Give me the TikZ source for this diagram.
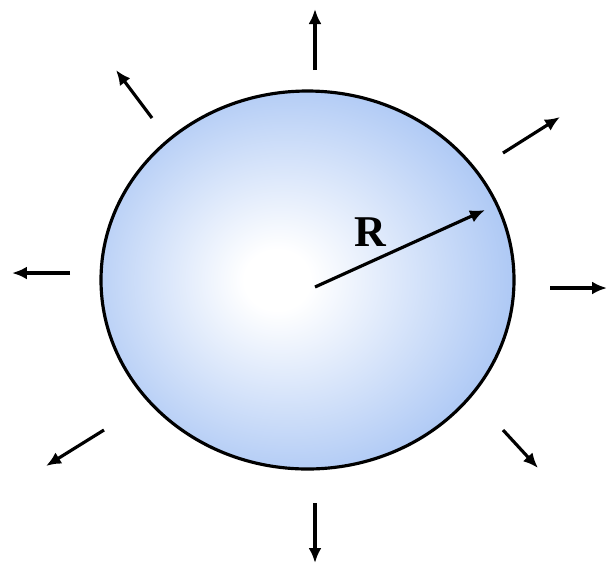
\documentclass[tikz,border=0pt]{standalone}
\usepackage{fontspec}
\setmainfont{Liberation Serif}
\usetikzlibrary{arrows.meta}

\definecolor{sphereblue}{RGB}{152,186,242}
\pgfdeclareradialshading{sphereshade}{\pgfpoint{-4bp}{0bp}}{%
  color(0bp)=(white); color(4bp)=(white);
  color(33bp)=(sphereblue); color(50bp)=(sphereblue)}

\tikzset{
  flux/.style={line width=1.8pt, -{Latex[length=3mm,width=2.6mm]}},
  radiuslabel/.style={font=\bfseries\fontsize{25}{27}\selectfont}
}

\begin{document}
\begin{tikzpicture}[x=0.02cm, y=-0.02cm]
  \useasboundingbox (0,0) rectangle (608,566);

  % Sphere
  \coordinate (O) at (307.5,280);
  \draw[line width=1.8pt, shading=sphereshade] (O) ellipse (206.5 and 189);

  % Radius
  \coordinate (Rstart) at (315,287);
  \coordinate (Rend) at (485,210);
  \draw[flux] (Rstart) -- (Rend);
  \node[radiuslabel] (Rlab) at (370,232) {R};

  % Outward arrows (start near the surface, end outside)
  \coordinate (Nstart) at (315,70);   \coordinate (Nend) at (315,9);
  \coordinate (NWstart) at (152,118); \coordinate (NWend) at (116,70);
  \coordinate (NEstart) at (503,153); \coordinate (NEend) at (560,117);
  \coordinate (Wstart) at (70,273);   \coordinate (Wend) at (12,273);
  \coordinate (Estart) at (550,288);  \coordinate (Eend) at (607,288);
  \coordinate (SWstart) at (104,430); \coordinate (SWend) at (46,466);
  \coordinate (SEstart) at (503,430); \coordinate (SEend) at (538,468);
  \coordinate (Sstart) at (315,503);  \coordinate (Send) at (315,563);

  \draw[flux] (Nstart) -- (Nend);
  \draw[flux] (NWstart) -- (NWend);
  \draw[flux] (NEstart) -- (NEend);
  \draw[flux] (Wstart) -- (Wend);
  \draw[flux] (Estart) -- (Eend);
  \draw[flux] (SWstart) -- (SWend);
  \draw[flux] (SEstart) -- (SEend);
  \draw[flux] (Sstart) -- (Send);

\end{tikzpicture}
\end{document}
